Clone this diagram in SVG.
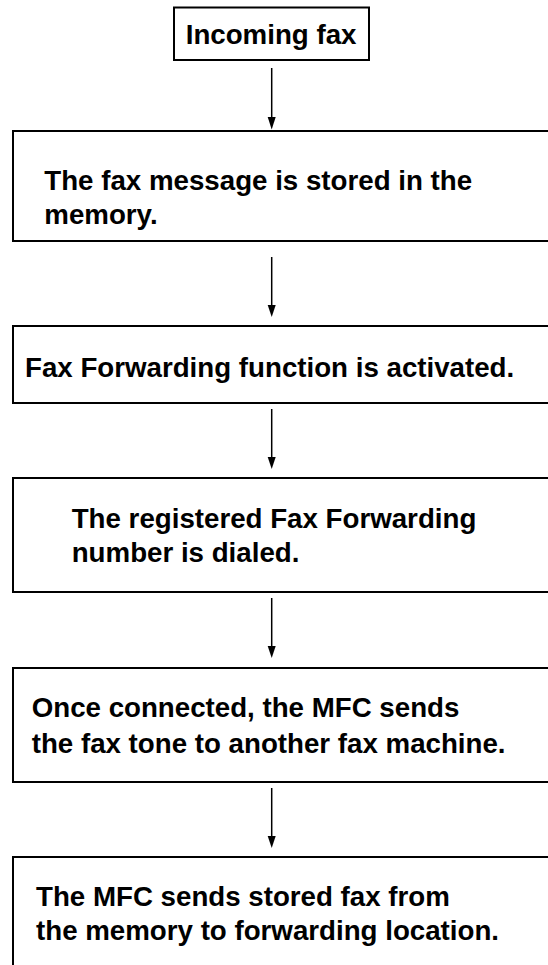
<svg xmlns="http://www.w3.org/2000/svg" width="548" height="965" viewBox="0 0 548 965">
<style>
.box{fill:#fff;stroke:#000;stroke-width:2}
.t{font-family:"Liberation Sans",Arial,sans-serif;font-weight:bold;font-size:27.7px;fill:#000}
.c{stroke:#000;stroke-width:1.5;fill:none}
</style>
<defs>
<marker id="ah" markerWidth="8" markerHeight="12" refX="4" refY="12" orient="auto-start-reverse" markerUnits="userSpaceOnUse" viewBox="0 0 8 12">
<path d="M0,0 L8,0 L4,12 Z" fill="#000" transform="rotate(0)"/>
</marker>
</defs>
<rect width="548" height="965" fill="#fff"/>
<g id="n1"><rect class="box" x="174" y="7.5" width="195" height="52.5"/><text class="t" x="185.7" y="44.3">Incoming fax</text></g>
<g id="n2"><rect class="box" x="13" y="131" width="545" height="110"/><text class="t" x="44.3" y="190">The fax message is stored in the</text><text class="t" x="44.3" y="224">memory.</text></g>
<g id="n3"><rect class="box" x="13" y="326" width="545" height="77"/><text class="t" x="25" y="376.7">Fax Forwarding function is activated.</text></g>
<g id="n4"><rect class="box" x="13" y="478" width="545" height="114"/><text class="t" x="71.7" y="528">The registered Fax Forwarding</text><text class="t" x="71.7" y="562">number is dialed.</text></g>
<g id="n5"><rect class="box" x="13" y="668" width="545" height="114"/><text class="t" x="31.7" y="717">Once connected, the MFC sends</text><text class="t" x="31.7" y="753">the fax tone to another fax machine.</text></g>
<g id="n6"><rect class="box" x="13" y="857" width="545" height="120"/><text class="t" x="36" y="906">The MFC sends stored fax from</text><text class="t" x="36" y="940">the memory to forwarding location.</text></g>
<g id="connectors">
<line class="c" x1="271.7" y1="68" x2="271.7" y2="119"/><path d="M267.7,117 L275.7,117 L271.7,129.5 Z"/>
<line class="c" x1="271.7" y1="257" x2="271.7" y2="307"/><path d="M267.7,305 L275.7,305 L271.7,317 Z"/>
<line class="c" x1="271.7" y1="409" x2="271.7" y2="459"/><path d="M267.7,457 L275.7,457 L271.7,469 Z"/>
<line class="c" x1="271.7" y1="598" x2="271.7" y2="648"/><path d="M267.7,646 L275.7,646 L271.7,658 Z"/>
<line class="c" x1="271.7" y1="788" x2="271.7" y2="838"/><path d="M267.7,836 L275.7,836 L271.7,848 Z"/>
</g>
</svg>
